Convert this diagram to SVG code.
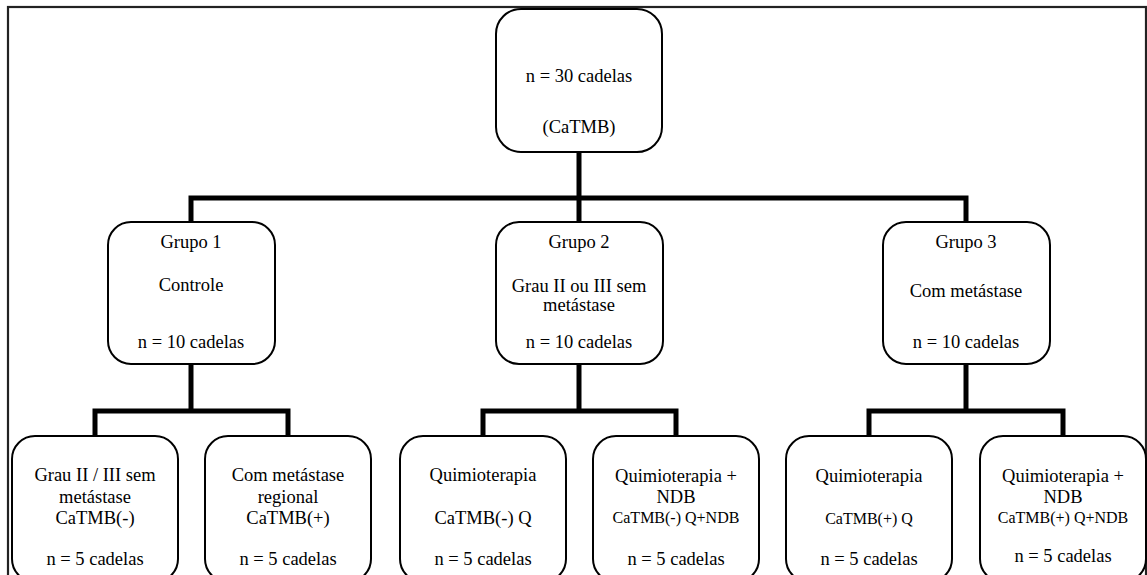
<svg xmlns="http://www.w3.org/2000/svg" width="1147" height="575" viewBox="0 0 1147 575">
<style>
.box{fill:#fff;stroke:#000;stroke-width:2}
.t{font-family:"Liberation Serif","Times New Roman",serif;font-size:18.5px;text-anchor:middle;fill:#000}
.s{font-size:16px}
.c{fill:none;stroke:#000;stroke-width:5;stroke-linejoin:miter;stroke-linecap:butt}
</style>
<rect x="8" y="7" width="1138" height="620" fill="#fff" stroke="#222" stroke-width="2.2"/>
<g id="connectors">
<path class="c" d="M579 152V222"/>
<path class="c" d="M191 222V198H966V222"/>
<path class="c" d="M191 364V411"/>
<path class="c" d="M95 436V411H288V436"/>
<path class="c" d="M579 364V411"/>
<path class="c" d="M483 436V411H676V436"/>
<path class="c" d="M966 364V411"/>
<path class="c" d="M869 436V411H1063V436"/>
</g>
<g id="root">
<rect class="box" x="496" y="9" width="166" height="143" rx="25"/>
<text class="t" x="579" y="82">n = 30 cadelas</text>
<text class="t" x="579" y="133">(CaTMB)</text>
</g>
<g id="grupo1">
<rect class="box" x="108" y="222" width="167" height="142" rx="23"/>
<text class="t" x="191" y="248">Grupo 1</text>
<text class="t" x="191" y="291">Controle</text>
<text class="t" x="191" y="348">n = 10 cadelas</text>
</g>
<g id="grupo2">
<rect class="box" x="496" y="222" width="167" height="142" rx="23"/>
<text class="t" x="579" y="248">Grupo 2</text>
<text class="t" x="579" y="292">Grau II ou III sem</text>
<text class="t" x="579" y="311">metástase</text>
<text class="t" x="579" y="348">n = 10 cadelas</text>
</g>
<g id="grupo3">
<rect class="box" x="883" y="222" width="167" height="142" rx="23"/>
<text class="t" x="966" y="248">Grupo 3</text>
<text class="t" x="966" y="297">Com metástase</text>
<text class="t" x="966" y="348">n = 10 cadelas</text>
</g>
<g id="sub1">
<rect class="box" x="12" y="436" width="166" height="146" rx="23"/>
<text class="t" x="95" y="481">Grau II / III sem</text>
<text class="t" x="95" y="503">metástase</text>
<text class="t" x="95" y="524">CaTMB(-)</text>
<text class="t" x="95" y="565">n = 5 cadelas</text>
</g>
<g id="sub2">
<rect class="box" x="205" y="436" width="166" height="146" rx="23"/>
<text class="t" x="288" y="481">Com metástase</text>
<text class="t" x="288" y="503">regional</text>
<text class="t" x="288" y="524">CaTMB(+)</text>
<text class="t" x="288" y="565">n = 5 cadelas</text>
</g>
<g id="sub3">
<rect class="box" x="400" y="436" width="166" height="146" rx="23"/>
<text class="t" x="483" y="481">Quimioterapia</text>
<text class="t" x="483" y="524">CaTMB(-) Q</text>
<text class="t" x="483" y="565">n = 5 cadelas</text>
</g>
<g id="sub4">
<rect class="box" x="593" y="436" width="166" height="146" rx="23"/>
<text class="t" x="676" y="482">Quimioterapia +</text>
<text class="t" x="676" y="503">NDB</text>
<text class="t s" x="676" y="523">CaTMB(-) Q+NDB</text>
<text class="t" x="676" y="565">n = 5 cadelas</text>
</g>
<g id="sub5">
<rect class="box" x="786" y="436" width="166" height="146" rx="23"/>
<text class="t" x="869" y="482">Quimioterapia</text>
<text class="t s" x="869" y="524">CaTMB(+) Q</text>
<text class="t" x="869" y="565">n = 5 cadelas</text>
</g>
<g id="sub6">
<rect class="box" x="980" y="436" width="166" height="146" rx="23"/>
<text class="t" x="1063" y="482">Quimioterapia +</text>
<text class="t" x="1063" y="503">NDB</text>
<text class="t s" x="1063" y="523">CaTMB(+) Q+NDB</text>
<text class="t" x="1063" y="562">n = 5 cadelas</text>
</g>
</svg>
